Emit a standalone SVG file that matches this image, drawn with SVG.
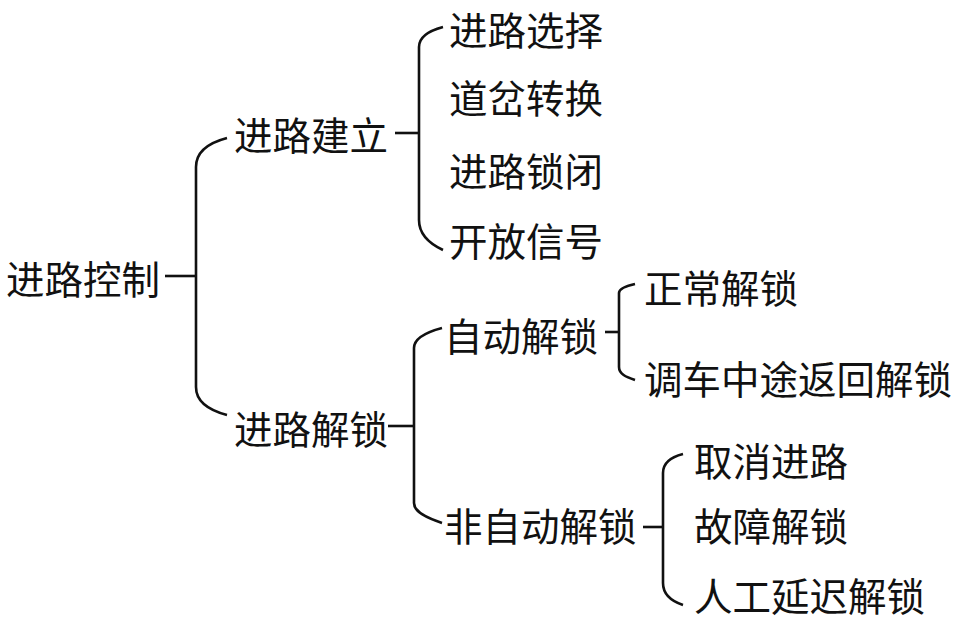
<svg xmlns="http://www.w3.org/2000/svg" width="957" height="623" viewBox="0 0 957 623">
<style>
text{font-family:"Noto Sans CJK SC","Liberation Serif",serif;font-size:38.5px;fill:#111;}
.c{fill:none;stroke:#111;stroke-width:2.6;}
</style>
<rect width="957" height="623" fill="#fff"/>
<g id="connectors">
<path class="c" d="M165,276 H196"/>
<path class="c" d="M227,138 C208,143 196,152 196,167 V387 C196,402 208,410 227,415"/>
<path class="c" d="M395,133 H419"/>
<path class="c" d="M443,27 C428,31 419,38 419,47 V220 C419,234 428,243 443,250"/>
<path class="c" d="M388,426 H414"/>
<path class="c" d="M442,328 C427,332 414,338 414,348 V503 C414,512 427,518 442,523"/>
<path class="c" d="M605,332 H619"/>
<path class="c" d="M635,284 C626,286 619,289 619,293 V367 C619,374 626,377 635,380"/>
<path class="c" d="M643,527 H663"/>
<path class="c" d="M683,454 C671,457 663,463 663,473 V583 C663,595 671,601 683,605"/>
</g>
<g id="n0"><text x="6" y="294">进路控制</text></g>
<g id="n1"><text x="234" y="150">进路建立</text></g>
<g id="n2"><text x="234" y="444">进路解锁</text></g>
<g id="n3"><text x="449" y="45">进路选择</text></g>
<g id="n4"><text x="449" y="113">道岔转换</text></g>
<g id="n5"><text x="449" y="186">进路锁闭</text></g>
<g id="n6"><text x="449" y="256">开放信号</text></g>
<g id="n7"><text x="444" y="351">自动解锁</text></g>
<g id="n8"><text x="444" y="541">非自动解锁</text></g>
<g id="n9"><text x="644" y="303">正常解锁</text></g>
<g id="n10"><text x="644" y="394">调车中途返回解锁</text></g>
<g id="n11"><text x="694" y="476">取消进路</text></g>
<g id="n12"><text x="694" y="541">故障解锁</text></g>
<g id="n13"><text x="694" y="611">人工延迟解锁</text></g>
</svg>
